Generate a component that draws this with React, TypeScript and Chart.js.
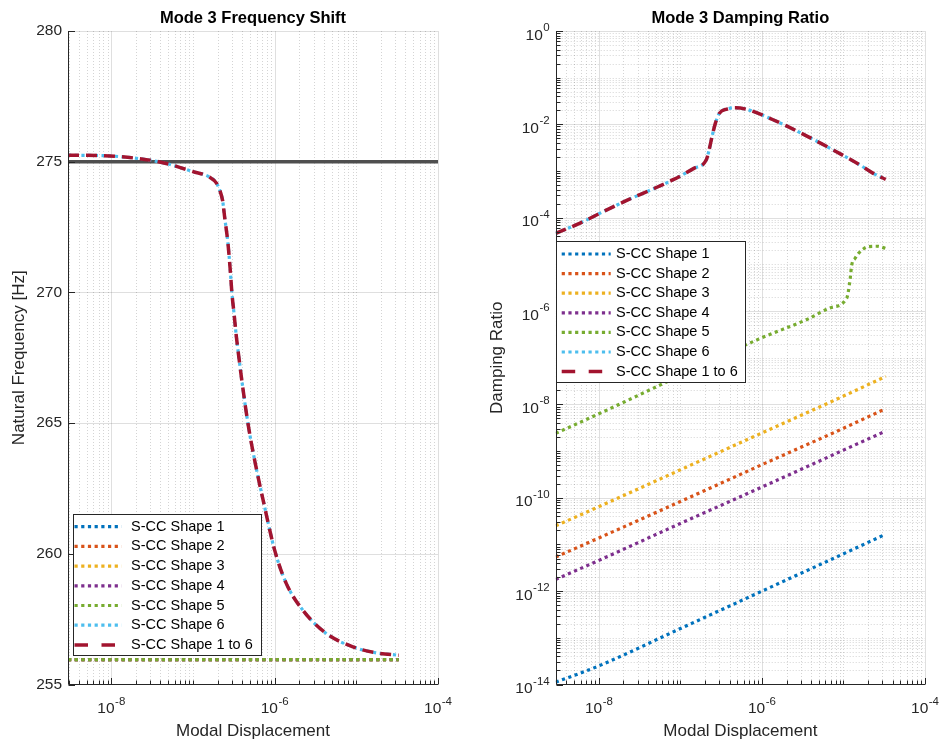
import React, { useEffect, useRef } from 'react';
import { Chart, registerables } from 'chart.js';

Chart.register(...registerables);

const FONT = '"Liberation Sans", Arial, Helvetica, sans-serif';
const TEXT = '#262626';

// ---------------- data ----------------
const seriesLabels = [
  'S-CC Shape 1',
  'S-CC Shape 2',
  'S-CC Shape 3',
  'S-CC Shape 4',
  'S-CC Shape 5',
  'S-CC Shape 6',
  'S-CC Shape 1 to 6',
];
const seriesColors = ['#0072BD', '#D95319', '#EDB120', '#7E2F8E', '#77AC30', '#4DBEEE', '#A2142F'];

const xAxisRange = [2.95e-9, 1e-4];
const xTickValues = [1e-8, 1e-6, 1e-4];

// Left panel: frequency
const freqTicks = [255, 260, 265, 270, 275, 280];
const nominalX = [2.95e-9, 1e-4];
const nominalY = [275, 275];
const freqFlatX = [2.95e-9, 3.3e-5];
const freqShape1 = [255.95, 255.95];
const freqShape2 = [255.95, 255.95];
const freqShape3 = [255.95, 255.95];
const freqShape4 = [255.95, 255.95];
const freqShape5 = [255.95, 255.95];
const freqCurveX = [
  2.95e-9, 9.55e-9, 2.95e-8, 5.13e-8, 1.0e-7, 1.58e-7, 1.95e-7, 2.16e-7, 2.31e-7, 2.44e-7,
  2.68e-7, 2.86e-7, 3.0e-7, 3.18e-7, 3.4e-7, 3.66e-7, 3.91e-7, 4.71e-7, 5.69e-7, 7.53e-7,
  1.0e-6, 1.39e-6, 2.22e-6, 4.3e-6, 9.1e-6, 1.76e-5, 3.3e-5,
];
const freqCurveY = [
  275.25, 275.22, 275.06, 274.9, 274.62, 274.42, 274.17, 273.85, 273.5, 272.89,
  271.88, 270.85, 269.96, 269.2, 268.3, 267.48, 266.77, 264.99, 263.58, 261.8,
  260.14, 258.86, 257.84, 256.95, 256.44, 256.21, 256.12,
];

// Right panel: damping
const dampTicks = [1e-14, 1e-12, 1e-10, 1e-8, 1e-6, 1e-4, 1e-2, 1];
const dampLineX = [2.95e-9, 1e-8, 1e-7, 1e-6, 1e-5, 3.3e-5];
const dampShape1 = [1.12e-14, 2.51e-14, 1.58e-13, 1.0e-12, 6.31e-12, 1.66e-11];
const dampShape2 = [5.37e-12, 1.38e-11, 8.32e-11, 5.13e-10, 3.09e-9, 8.13e-9];
const dampShape3 = [2.51e-11, 6.46e-11, 3.98e-10, 2.45e-9, 1.51e-8, 3.98e-8];
const dampShape4 = [1.78e-12, 4.57e-12, 2.82e-11, 1.7e-10, 1.05e-9, 2.69e-9];
const dampShape5X = [
  2.95e-9, 1e-8, 1e-7, 1e-6, 3.56e-6, 6.85e-6, 1.1e-5, 1.15e-5, 1.21e-5, 1.26e-5,
  1.39e-5, 1.52e-5, 1.75e-5, 2.02e-5, 2.56e-5, 3.08e-5, 3.3e-5,
];
const dampShape5Y = [
  2.4e-9, 6.31e-9, 4.17e-8, 2.69e-7, 6.61e-7, 1.17e-6, 1.91e-6, 2.69e-6, 5.01e-6, 9.55e-6,
  1.35e-5, 1.7e-5, 2.14e-5, 2.4e-5, 2.45e-5, 2.29e-5, 2.19e-5,
];
const dampCurveX = [
  2.95e-9, 5.97e-9, 1.05e-8, 2.23e-8, 4.3e-8, 8.28e-8, 1.46e-7, 2.07e-7, 2.22e-7, 2.44e-7,
  2.68e-7, 3.0e-7, 3.73e-7, 4.71e-7, 6.55e-7, 1.39e-6, 3.56e-6, 7.52e-6, 1.6e-5, 2.32e-5, 3.3e-5,
];
const dampCurveY = [
  4.6e-5, 7.78e-5, 1.27e-4, 2.38e-4, 3.91e-4, 6.61e-4, 1.14e-3, 1.72e-3, 2.59e-3, 5.42e-3,
  1.05e-2, 1.72e-2, 2.13e-2, 2.27e-2, 2.09e-2, 1.24e-2, 5.61e-3, 2.81e-3, 1.34e-3, 8.91e-4, 6.61e-4,
];

// ---------------- helpers ----------------
const zip = (xs: number[], ys: number[]) => xs.map((x, i) => ({ x, y: ys[i] }));
const exponentOf = (v: number) => String(Math.round(Math.log10(v)));

function seriesStyle(i: number) {
  if (i === 6) return { borderColor: seriesColors[6], borderWidth: 3.5, borderDash: [11, 7] };
  return { borderColor: seriesColors[i], borderWidth: 3.2, borderDash: [3.2, 3.5] };
}

function ds(label: string, data: any[], style: any, order: number) {
  return {
    label,
    data,
    ...style,
    order,
    pointRadius: 0,
    pointHoverRadius: 0,
    fill: false,
    cubicInterpolationMode: 'monotone',
    borderCapStyle: 'butt',
    borderJoinStyle: 'round',
  };
}

function logSteps(min: number, max: number) {
  const out: number[] = [];
  for (let n = Math.floor(Math.log10(min)); n <= Math.ceil(Math.log10(max)); n++) {
    for (let k = 1; k <= 9; k++) {
      const v = k * Math.pow(10, n);
      if (v >= min * 0.99999 && v <= max * 1.00001) out.push(v);
    }
  }
  return out;
}
const inList = (v: number, list: number[]) =>
  list.some((m) => Math.abs(Math.log10(v) - Math.log10(m)) < 1e-6);

type LegendSpec = {
  left: number; top: number; width: number; height: number;
  firstRow: number; rowH: number; sampleStart: number; sampleEnd: number; textX: number;
};
type AxesSpec = {
  id: string;
  xMajor: number[]; xMinor: number[];
  yMajor: number[]; yMinor: number[];
  yLogLabels: boolean;
  legend: LegendSpec;
};

const BASE_FONT = `15.5px ${FONT}`;
const EXP_FONT = `11.5px ${FONT}`;

function drawPowerLabel(ctx: any, exp: string, x: number, baseline: number, align: 'center' | 'right') {
  ctx.font = BASE_FONT;
  const wBase = ctx.measureText('10').width;
  ctx.font = EXP_FONT;
  const wExp = ctx.measureText(exp).width;
  const total = wBase + wExp + 0.5;
  const start = align === 'center' ? x - total / 2 : x - total;
  ctx.textAlign = 'left';
  ctx.textBaseline = 'alphabetic';
  ctx.fillStyle = TEXT;
  ctx.font = BASE_FONT;
  ctx.fillText('10', start, baseline);
  ctx.font = EXP_FONT;
  ctx.fillText(exp, start + wBase + 0.5, baseline - 8.5);
}

function matlabAxesPlugin(spec: AxesSpec) {
  return {
    id: spec.id,
    beforeDatasetsDraw(chart: any) {
      const { ctx, chartArea: a } = chart;
      const xs = chart.scales.x;
      const ys = chart.scales.y;
      ctx.save();
      ctx.beginPath();
      ctx.rect(a.left, a.top - 1, a.right - a.left + 1, a.bottom - a.top + 1);
      ctx.clip();
      ctx.lineWidth = 1;
      const vline = (v: number) => {
        const p = Math.round(xs.getPixelForValue(v)) + 0.5;
        ctx.beginPath(); ctx.moveTo(p, a.top); ctx.lineTo(p, a.bottom); ctx.stroke();
      };
      const hline = (v: number) => {
        const p = Math.round(ys.getPixelForValue(v)) + 0.5;
        ctx.beginPath(); ctx.moveTo(a.left, p); ctx.lineTo(a.right, p); ctx.stroke();
      };
      ctx.strokeStyle = 'rgba(38,38,38,0.2)';
      ctx.setLineDash([1, 2]);
      spec.xMinor.forEach(vline);
      spec.yMinor.forEach(hline);
      ctx.setLineDash([]);
      ctx.strokeStyle = 'rgba(38,38,38,0.15)';
      spec.xMajor.forEach(vline);
      spec.yMajor.forEach(hline);
      ctx.restore();
    },
    afterDatasetsDraw(chart: any) {
      const { ctx, chartArea: a } = chart;
      const xs = chart.scales.x;
      const ys = chart.scales.y;
      const L = Math.round(a.left) + 0.5;
      const B = Math.floor(a.bottom) + 0.5;
      ctx.save();
      ctx.strokeStyle = TEXT;
      ctx.lineWidth = 1;
      ctx.setLineDash([]);
      ctx.beginPath();
      ctx.moveTo(L, a.top); ctx.lineTo(L, B); ctx.lineTo(a.right, B);
      ctx.stroke();
      const major = 6.5, minor = 4;
      const xt = (v: number, len: number) => {
        const p = Math.round(xs.getPixelForValue(v)) + 0.5;
        ctx.beginPath(); ctx.moveTo(p, B); ctx.lineTo(p, B - len); ctx.stroke();
      };
      const yt = (v: number, len: number) => {
        const p = Math.round(ys.getPixelForValue(v)) + 0.5;
        ctx.beginPath(); ctx.moveTo(L, p); ctx.lineTo(L + len, p); ctx.stroke();
      };
      spec.xMajor.forEach((v) => xt(v, major));
      spec.xMinor.forEach((v) => xt(v, minor));
      spec.yMajor.forEach((v) => yt(v, major));
      spec.yMinor.forEach((v) => yt(v, minor));

      // power-of-ten tick labels, placed from the axes' own ticks
      xs.ticks.forEach((t: any) => {
        const p = xs.getPixelForValue(t.value);
        drawPowerLabel(ctx, exponentOf(t.value), p, a.bottom + 28.5, 'center');
      });
      if (spec.yLogLabels) {
        ys.ticks.forEach((t: any) => {
          const p = ys.getPixelForValue(t.value);
          drawPowerLabel(ctx, exponentOf(t.value), a.left - 6, p + 8.5, 'right');
        });
      }
      ctx.restore();
    },
    afterDraw(chart: any) {
      const { ctx } = chart;
      const b = spec.legend;
      ctx.save();
      ctx.fillStyle = '#ffffff';
      ctx.fillRect(b.left, b.top, b.width, b.height);
      ctx.strokeStyle = TEXT;
      ctx.lineWidth = 1;
      ctx.setLineDash([]);
      ctx.strokeRect(b.left + 0.5, b.top + 0.5, b.width, b.height);
      ctx.font = `14.5px ${FONT}`;
      ctx.textBaseline = 'middle';
      ctx.textAlign = 'left';
      seriesLabels.forEach((label, i) => {
        const y = b.top + b.firstRow + i * b.rowH;
        const st = seriesStyle(i);
        ctx.strokeStyle = st.borderColor;
        ctx.lineWidth = st.borderWidth;
        ctx.lineCap = 'butt';
        ctx.setLineDash(i === 6 ? [13.5, 13.5] : st.borderDash);
        ctx.beginPath();
        ctx.moveTo(b.left + b.sampleStart, y);
        ctx.lineTo(b.left + b.sampleEnd, y);
        ctx.stroke();
        ctx.setLineDash([]);
        ctx.fillStyle = '#000000';
        ctx.fillText(label, b.left + b.textX, y);
      });
      ctx.restore();
    },
  };
}

function xScale() {
  return {
    type: 'logarithmic',
    min: xAxisRange[0],
    max: xAxisRange[1],
    afterBuildTicks: (s: any) => { s.ticks = xTickValues.map((v) => ({ value: v })); },
    afterFit: (s: any) => { s.height = 58.5; s.paddingLeft = 0; s.paddingRight = 0; },
    grid: { display: false, drawTicks: false },
    border: { display: false },
    ticks: { display: false },
    title: {
      display: true,
      text: 'Modal Displacement',
      font: { family: FONT, size: 17 },
      color: TEXT,
      padding: { top: 0, bottom: 1 },
    },
  };
}

function titleOpts(text: string) {
  return {
    display: true,
    text,
    fullSize: false,
    color: '#000000',
    font: { family: FONT, size: 16.5, weight: 'bold' },
    padding: { top: 8.5, bottom: 2.7 },
  };
}

function leftConfig(): any {
  const datasets = [
    ds('nominal', zip(nominalX, nominalY), { borderColor: '#4f4f4f', borderWidth: 3.5, borderDash: [] }, 20),
    ds(seriesLabels[0], zip(freqFlatX, freqShape1), seriesStyle(0), 7),
    ds(seriesLabels[1], zip(freqFlatX, freqShape2), seriesStyle(1), 6),
    ds(seriesLabels[2], zip(freqFlatX, freqShape3), seriesStyle(2), 5),
    ds(seriesLabels[3], zip(freqFlatX, freqShape4), seriesStyle(3), 4),
    ds(seriesLabels[4], zip(freqFlatX, freqShape5), seriesStyle(4), 3),
    ds(seriesLabels[5], zip(freqCurveX, freqCurveY), seriesStyle(5), 2),
    ds(seriesLabels[6], zip(freqCurveX, freqCurveY), seriesStyle(6), 1),
  ];
  const xMinor = logSteps(xAxisRange[0], xAxisRange[1]).filter((v) => !inList(v, xTickValues));
  return {
    type: 'line',
    data: { datasets },
    options: {
      animation: false,
      responsive: false,
      devicePixelRatio: 1,
      layout: { padding: { left: 0, right: 33, top: 0, bottom: 0 } },
      plugins: {
        legend: { display: false },
        tooltip: { enabled: false },
        title: titleOpts('Mode 3 Frequency Shift'),
      },
      scales: {
        x: xScale(),
        y: {
          type: 'linear',
          min: 255,
          max: 280,
          afterBuildTicks: (s: any) => { s.ticks = freqTicks.map((v) => ({ value: v })); },
          afterFit: (s: any) => { s.width = 68; s.paddingTop = 0; s.paddingBottom = 0; },
          grid: { display: false, drawTicks: false },
          border: { display: false },
          ticks: {
            callback: (v: any) => String(v),
            font: { family: FONT, size: 15.5 },
            color: TEXT,
            padding: 6,
          },
          title: {
            display: true,
            text: 'Natural Frequency [Hz]',
            font: { family: FONT, size: 17 },
            color: TEXT,
            padding: { top: 9, bottom: 0 },
          },
        },
      },
    },
    plugins: [
      matlabAxesPlugin({
        id: 'matlabAxesLeft',
        xMajor: xTickValues,
        xMinor,
        yMajor: freqTicks,
        yMinor: [],
        yLogLabels: false,
        legend: { left: 73, top: 514, width: 188, height: 141, firstRow: 12.7, rowH: 19.7, sampleStart: 1.5, sampleEnd: 48.5, textX: 58 },
      }),
    ],
  };
}

function rightConfig(): any {
  const datasets = [
    ds(seriesLabels[0], zip(dampLineX, dampShape1), seriesStyle(0), 7),
    ds(seriesLabels[1], zip(dampLineX, dampShape2), seriesStyle(1), 6),
    ds(seriesLabels[2], zip(dampLineX, dampShape3), seriesStyle(2), 5),
    ds(seriesLabels[3], zip(dampLineX, dampShape4), seriesStyle(3), 4),
    ds(seriesLabels[4], zip(dampShape5X, dampShape5Y), seriesStyle(4), 3),
    ds(seriesLabels[5], zip(dampCurveX, dampCurveY), seriesStyle(5), 2),
    ds(seriesLabels[6], zip(dampCurveX, dampCurveY), seriesStyle(6), 1),
  ];
  const xMinor = logSteps(xAxisRange[0], xAxisRange[1]).filter((v) => !inList(v, xTickValues));
  const yMinor = logSteps(dampTicks[0], dampTicks[dampTicks.length - 1]).filter((v) => !inList(v, dampTicks));
  return {
    type: 'line',
    data: { datasets },
    options: {
      animation: false,
      responsive: false,
      devicePixelRatio: 1,
      layout: { padding: { left: 0, right: 17, top: 0, bottom: 0 } },
      plugins: {
        legend: { display: false },
        tooltip: { enabled: false },
        title: titleOpts('Mode 3 Damping Ratio'),
      },
      scales: {
        x: xScale(),
        y: {
          type: 'logarithmic',
          min: dampTicks[0],
          max: dampTicks[dampTicks.length - 1],
          afterBuildTicks: (s: any) => { s.ticks = dampTicks.map((v) => ({ value: v })); },
          afterFit: (s: any) => { s.width = 84.7; s.paddingTop = 0; s.paddingBottom = 0; },
          grid: { display: false, drawTicks: false },
          border: { display: false },
          ticks: { display: false },
          title: {
            display: true,
            text: 'Damping Ratio',
            font: { family: FONT, size: 17 },
            color: TEXT,
            padding: { top: 16, bottom: 0 },
          },
        },
      },
    },
    plugins: [
      matlabAxesPlugin({
        id: 'matlabAxesRight',
        xMajor: xTickValues,
        xMinor,
        yMajor: dampTicks,
        yMinor,
        yLogLabels: true,
        legend: { left: 85, top: 241, width: 189, height: 141, firstRow: 13, rowH: 19.6, sampleStart: 5.7, sampleEnd: 54.7, textX: 60 },
      }),
    ],
  };
}

export default function App() {
  const leftRef = useRef<HTMLCanvasElement>(null);
  const rightRef = useRef<HTMLCanvasElement>(null);
  useEffect(() => {
    const c1 = new Chart(leftRef.current as HTMLCanvasElement, leftConfig());
    const c2 = new Chart(rightRef.current as HTMLCanvasElement, rightConfig());
    return () => {
      c1.destroy();
      c2.destroy();
    };
  }, []);
  return (
    <div style={{ position: 'absolute', left: 0, top: 0, width: 942, height: 743, background: '#ffffff' }}>
      <canvas
        ref={leftRef}
        width={471}
        height={743}
        style={{ position: 'absolute', left: 0, top: 0, width: 471, height: 743 }}
      />
      <canvas
        ref={rightRef}
        width={471}
        height={743}
        style={{ position: 'absolute', left: 471, top: 0, width: 471, height: 743 }}
      />
    </div>
  );
}
